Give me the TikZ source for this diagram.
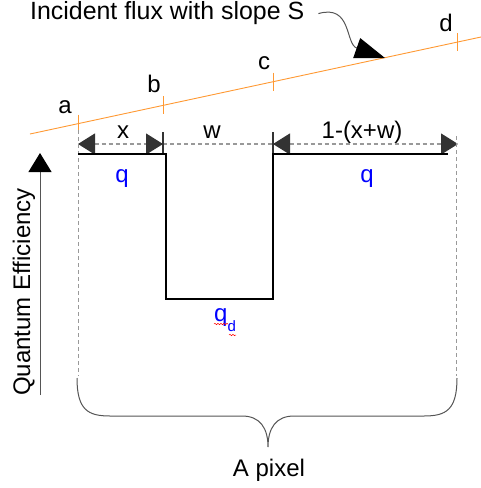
\documentclass[tikz,border=0pt]{standalone}
\usepackage{fontspec}
\setmainfont{Liberation Sans}
\usepackage{tikz}
\usetikzlibrary{positioning,arrows.meta,calc,decorations.pathmorphing}
\definecolor{qeflux}{HTML}{FF9933}
\definecolor{qedim}{HTML}{999999}
\definecolor{qetip}{HTML}{333333}
\definecolor{qeaxis}{HTML}{555555}
\definecolor{qeblue}{HTML}{0000FF}

\begin{document}
\begin{tikzpicture}[x=1pt, y=-1pt,
  font=\fontsize{24}{28}\selectfont,
  lbl/.style={inner sep=0pt, anchor=base},
  qlab/.style={lbl, text=qeblue},
  fluxtick/.style={draw=qeflux, line width=0.9pt},
  dimline/.style={draw=qedim, line width=1.3pt, dash pattern=on 4pt off 3pt},
  extline/.style={draw=qedim, line width=0.9pt, dash pattern=on 4pt off 3pt},
  dimtip/.tip={Triangle[length=17pt, width=21pt, color=qetip]},
  profile/.style={draw=black, line width=2.6pt, line join=miter},
  guide/.style={draw=qeaxis, line width=1pt},
]
  \useasboundingbox (0,0) rectangle (481,488);

  % ---- incident flux --------------------------------------------------------
  \coordinate (fluxL) at (30,134);
  \coordinate (fluxR) at (481,37);
  \draw[qeflux, line width=0.9pt] (fluxL) -- (fluxR);
  \foreach \nm/\px/\py in {ta/78/123.7, tb/163/105.4, tc/273/81.7, td/457.7/42} {
    \coordinate (\nm) at (\px,\py);
    \draw[fluxtick] ([yshift=9pt]\nm) -- ([yshift=-9pt]\nm);
  }
  \node[lbl] (la) at (65,113) {a};
  \node[lbl] (lb) at (154,92) {b};
  \node[lbl] (lc) at (264,69) {c};
  \node[lbl] (ld) at (446,31) {d};

  \node[lbl, anchor=base west, font=\fontsize{24.9}{28}\selectfont] (title)
    at (30,19) {Incident flux with slope S};
  \coordinate (hit) at (385,58);
  \draw[guide, -{Triangle[length=30pt, width=21pt, color=black]}]
    ([xshift=14pt, yshift=-1pt]title.east) .. controls (352,4) and (345,44) .. (hit);

  % ---- dimensions -------------------------------------------------------------
  \coordinate (dA) at (78,144);
  \coordinate (dB) at (163,144);
  \coordinate (dC) at (273,144);
  \coordinate (dD) at (458,144);
  \draw[dimline, dimtip-dimtip] (dA) -- (dB);
  \draw[dimline] (dB) -- (dC);
  \draw[dimline, dimtip-dimtip] (dC) -- (dD);
  \draw[qetip, line width=1.4pt] (163,132) -- (163,154);
  \draw[qetip, line width=1.4pt] (273,132) -- (273,154);
  \node[lbl] (lx) at (123,138) {x};
  \node[lbl] (lw) at (212,138) {w};
  \node[lbl] (lr) at (362,138) {1-(x+w)};

  % ---- pixel response -------------------------------------------------------
  \draw[extline] (78,130) -- (78,376);
  \draw[extline] (456,136) -- (456,376);
  \draw[profile] (78,154) -- (166,154) -- (166,299) -- (273,299)
    -- (273,154) -- (448,154);
  \node[qlab] (q1) at (122,182) {q};
  \node[qlab] (q2) at (367,182) {q};
  \node[qlab, anchor=base west] (qd) at (214,321)
    {q{\fontsize{15}{17}\selectfont\raisebox{-10pt}{d}}};
  \draw[red, line width=0.5pt, decorate,
        decoration={snake, amplitude=0.7pt, segment length=3pt}]
    (214,324) -- (228,324);
  \draw[red, line width=0.5pt, decorate,
        decoration={snake, amplitude=0.7pt, segment length=3pt}]
    (229,335) -- (236,335);

  % ---- axis and pixel brace ---------------------------------------------------
  \coordinate (axbot) at (40,395);
  \coordinate (axtop) at (40,153);
  \draw[guide, -{Triangle[length=19pt, width=23pt, color=black]}] (axbot) -- (axtop);
  \node[rotate=90, inner sep=0pt] (qe) at (24,292) {Quantum Efficiency};

  \draw[guide] (77,378) .. controls (77,410) and (88,416) .. (110,416)
    -- (242,416) .. controls (260,416) and (268,428) .. (268,447)
    .. controls (268,428) and (276,416) .. (294,416)
    -- (424,416) .. controls (446,416) and (457,410) .. (457,378);
  \node[lbl] (pix) at (269,476) {A pixel};
\end{tikzpicture}
\end{document}
